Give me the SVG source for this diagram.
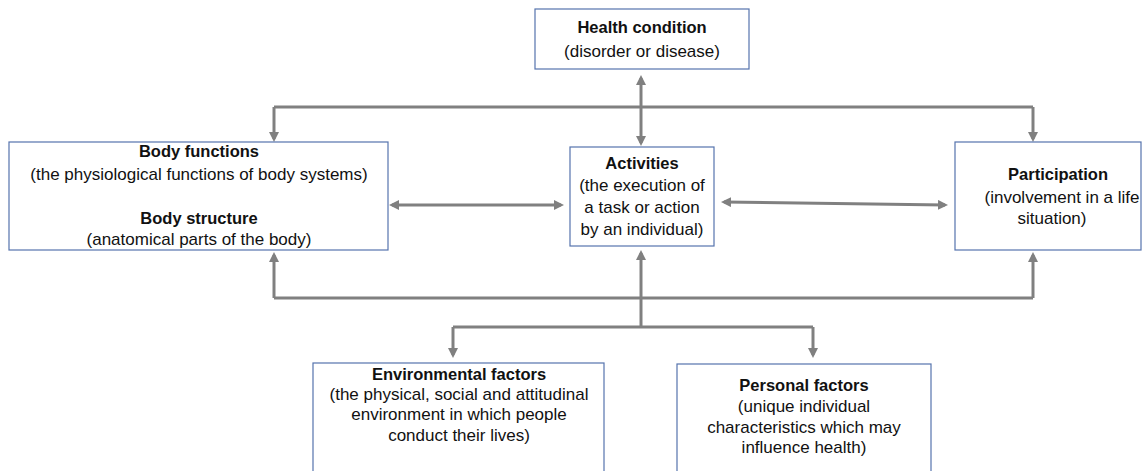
<svg xmlns="http://www.w3.org/2000/svg" width="1143" height="471" viewBox="0 0 1143 471">
<defs>
<style>
.box{fill:#ffffff;stroke:#5573ad;stroke-width:1.2}
.t{font-family:"Liberation Sans",Arial,sans-serif;font-size:17px;fill:#111;text-anchor:middle}
.b{font-weight:bold;font-size:16.5px}
.c{fill:none;stroke:#808080;stroke-width:3}
</style>
<marker id="ah" viewBox="0 0 10 10" refX="7" refY="5" markerWidth="10" markerHeight="10" markerUnits="userSpaceOnUse" orient="auto-start-reverse">
<path d="M0,0 L10,5 L0,10 z" fill="#808080"/>
</marker>
</defs>
<rect width="1143" height="471" fill="#ffffff"/>
<g id="connectors">
<path class="c" d="M274,107 H1033"/>
<path class="c" d="M274,107 V139" marker-end="url(#ah)"/>
<path class="c" d="M1033,107 V139" marker-end="url(#ah)"/>
<path class="c" d="M641,78 V143" marker-start="url(#ah)" marker-end="url(#ah)"/>
<path class="c" d="M392,205 H561" marker-start="url(#ah)" marker-end="url(#ah)"/>
<path class="c" d="M724,202 L945,205" marker-start="url(#ah)" marker-end="url(#ah)"/>
<path class="c" d="M274,298 H1033"/>
<path class="c" d="M274,298 V255" marker-end="url(#ah)"/>
<path class="c" d="M1033,298 V255" marker-end="url(#ah)"/>
<path class="c" d="M641,327 V253" marker-end="url(#ah)"/>
<path class="c" d="M453,327 H813"/>
<path class="c" d="M453,327 V355" marker-end="url(#ah)"/>
<path class="c" d="M813,327 V355" marker-end="url(#ah)"/>
</g>
<g id="health">
<rect class="box" x="535" y="9" width="214" height="60"/>
<text class="t b" x="642" y="33">Health condition</text>
<text class="t" x="642" y="57">(disorder or disease)</text>
</g>
<g id="body">
<rect class="box" x="9" y="142" width="379" height="108"/>
<text class="t b" x="199" y="157">Body functions</text>
<text class="t" x="199" y="180">(the physiological functions of body systems)</text>
<text class="t b" x="199" y="224">Body structure</text>
<text class="t" x="199" y="245">(anatomical parts of the body)</text>
</g>
<g id="activities">
<rect class="box" x="570" y="147" width="144" height="99"/>
<text class="t b" x="642" y="169">Activities</text>
<text class="t" x="642" y="191">(the execution of</text>
<text class="t" x="642" y="213">a task or action</text>
<text class="t" x="642" y="235">by an individual)</text>
</g>
<g id="participation">
<rect class="box" x="955" y="142" width="186" height="108"/>
<text class="t b" x="1058" y="180">Participation</text>
<text class="t" x="1062" y="203">(involvement in a life</text>
<text class="t" x="1052" y="224">situation)</text>
</g>
<g id="environmental">
<rect class="box" x="313" y="363" width="291" height="110"/>
<text class="t b" x="459" y="380">Environmental factors</text>
<text class="t" x="459" y="400">(the physical, social and attitudinal</text>
<text class="t" x="459" y="420">environment in which people</text>
<text class="t" x="459" y="441">conduct their lives)</text>
</g>
<g id="personal">
<rect class="box" x="677" y="364" width="254" height="110"/>
<text class="t b" x="804" y="391">Personal factors</text>
<text class="t" x="804" y="412">(unique individual</text>
<text class="t" x="804" y="433">characteristics which may</text>
<text class="t" x="804" y="453">influence health)</text>
</g>
</svg>
